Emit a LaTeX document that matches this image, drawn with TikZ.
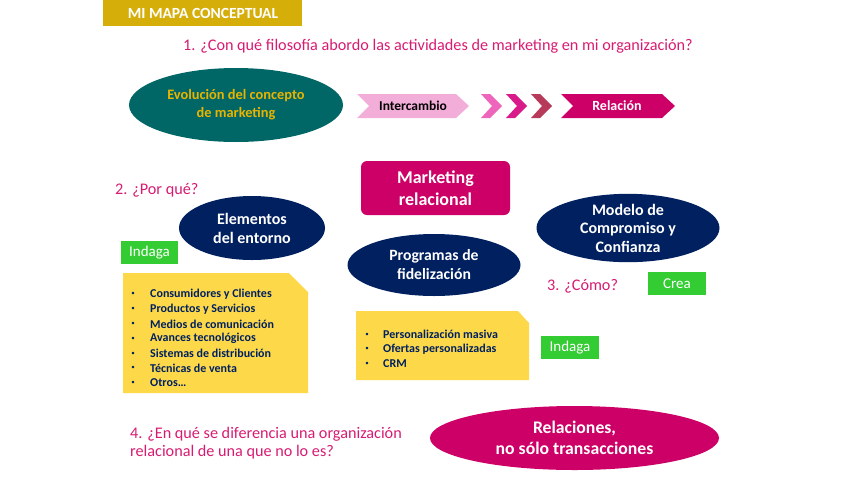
\documentclass[tikz,border=0pt]{standalone}
\usepackage{fontspec}
\setmainfont{Carlito}
\usetikzlibrary{shapes.geometric}
\definecolor{gold}{HTML}{D6AE0A}
\definecolor{qpink}{HTML}{D81B72}
\definecolor{teal2}{HTML}{006766}
\definecolor{navy}{HTML}{002060}
\definecolor{mag}{HTML}{CC0066}
\definecolor{lpink}{HTML}{F2AED8}
\definecolor{ch1}{HTML}{EE66BB}
\definecolor{ch2}{HTML}{D91A8A}
\definecolor{ch3}{HTML}{B83A5A}
\definecolor{ind}{HTML}{33CC33}
\definecolor{ylw}{HTML}{FDD94A}
\definecolor{evtxt}{HTML}{E8B400}
\tikzset{
  question/.style={text=qpink, font=\fontsize{16.2}{18}\selectfont, anchor=west, inner sep=0},
  ellnavy/.style={ellipse, fill=navy, text=white, font=\fontsize{16}{19}\selectfont\bfseries, align=center, inner sep=0},
  greenbox/.style={fill=ind, text=white, font=\fontsize{15}{17}\selectfont, inner sep=0},
  item/.style={text=navy, font=\fontsize{12}{14}\selectfont\bfseries, anchor=west, inner sep=0},
  bul/.style={text=navy, font=\fontsize{7}{8}\selectfont, inner sep=0}
}
\begin{document}
\begin{tikzpicture}[x=1pt,y=-1pt]
\useasboundingbox (0,0) rectangle (848,477);
% title
\fill[gold] (103,0) rectangle (302,26);
\node[text=white, font=\fontsize{15.5}{17}\selectfont\bfseries] (title) at (203,13.5) {MI MAPA CONCEPTUAL};
% Q1
\node[question] (q1) at (183,46) {1. ¿Con qué filosofía abordo las actividades de marketing en mi organización?};
% evolution ellipse
\node[ellipse, fill=teal2, minimum width=214, minimum height=74, inner sep=0, text=evtxt, font=\fontsize{14.4}{18}\selectfont\bfseries, align=center] (evol) at (236,105) {Evolución del concepto\\de marketing};
% chevrons
\fill[lpink] (357,94) -- (456,94) -- (469,106) -- (456,118) -- (357,118) -- (369,106) -- cycle;
\node[font=\fontsize{13.5}{15}\selectfont\bfseries, text=black] (inter) at (413,106) {Intercambio};
\fill[ch1] (481,94) -- (490,94) -- (502,106) -- (490,118) -- (481,118) -- (492,106) -- cycle;
\fill[ch2] (506,94) -- (515,94) -- (527,106) -- (515,118) -- (506,118) -- (517,106) -- cycle;
\fill[ch3] (531,94) -- (540,94) -- (552,106) -- (540,118) -- (531,118) -- (542,106) -- cycle;
\fill[mag] (561,94) -- (662,94) -- (675,106) -- (662,118) -- (561,118) -- (573,106) -- cycle;
\node[font=\fontsize{14}{16}\selectfont\bfseries, text=white] (rel) at (617,106) {Relación};
% marketing relacional
\node[fill=mag, rounded corners=6pt, minimum width=149, minimum height=54, text=white, font=\fontsize{18}{22}\selectfont\bfseries, align=center, inner sep=0] (mr) at (435.5,188) {Marketing\\relacional};
% Q2
\node[question] (q2) at (115,190) {2. ¿Por qué?};
\node[ellnavy, minimum width=146, minimum height=64] (elem) at (252,228) {Elementos\\del entorno};
\node[ellnavy, minimum width=183, minimum height=62, font=\fontsize{16}{18.5}\selectfont\bfseries] (modelo) at (628,228) {Modelo de\\Compromiso y\\Confianza};
\node[ellnavy, minimum width=173, minimum height=62, font=\fontsize{15.7}{19}\selectfont\bfseries] (prog) at (434,265) {Programas de\\fidelización};
% Indaga 1
\node[greenbox, minimum width=57, minimum height=23] (ind1) at (149.5,252.5) {Indaga};
% yellow box 1
\fill[ylw] (123,273) -- (289,273) -- (308,292) -- (308,393) -- (123,393) -- cycle;
\foreach \t [count=\i] in {Consumidores y Clientes, Productos y Servicios, Medios de comunicación, Avances tecnológicos, Sistemas de distribución, Técnicas de venta, Otros\ldots}{
  \node[bul] (b1\i) at (133,{279.5+14.8*\i}) {•};
  \node[item] (t1\i) at (150,{279.5+14.8*\i}) {\t};
}
% yellow box 2
\fill[ylw] (356,311) -- (518,311) -- (529,323) -- (529,380) -- (356,380) -- cycle;
\foreach \t [count=\i] in {Personalización masiva, Ofertas personalizadas, CRM}{
  \node[bul] (b2\i) at (367,{320+14.5*\i}) {•};
  \node[item] (t2\i) at (383,{320+14.5*\i}) {\t};
}
% Q3
\node[question] (q3) at (547,286) {3. ¿Cómo?};
\node[greenbox, minimum width=58, minimum height=23] (crea) at (677,283.5) {Crea};
\node[greenbox, minimum width=58, minimum height=23] (ind2) at (570,347.5) {Indaga};
% Q4
\node[question, align=left, font=\fontsize{16.2}{18.5}\selectfont] (q4) at (130,443) {4. ¿En qué se diferencia una organización\\relacional de una que no lo es?};
\node[ellipse, fill=mag, minimum width=289, minimum height=64, inner sep=0, text=white, font=\fontsize{17.7}{21}\selectfont\bfseries, align=center] (relac) at (574.5,438) {Relaciones,\\no sólo transacciones};
\end{tikzpicture}
\end{document}
